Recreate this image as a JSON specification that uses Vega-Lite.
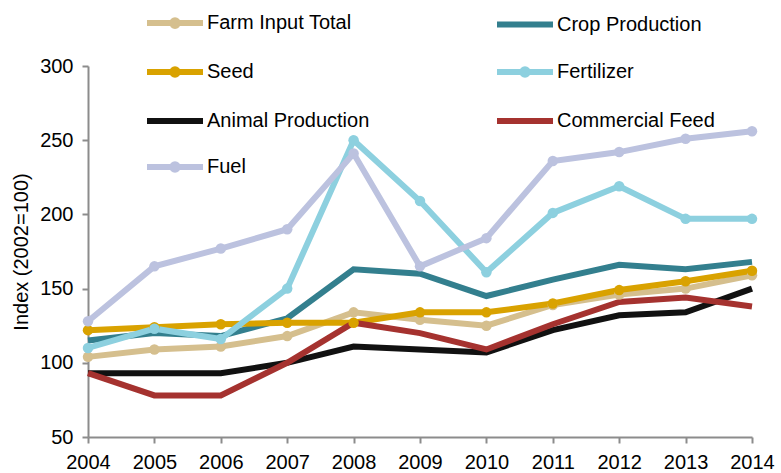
{
  "$schema": "https://vega.github.io/schema/vega-lite/v6.json",
  "width": 664,
  "height": 371,
  "autosize": "none",
  "padding": {"left": 88, "top": 66, "right": 29, "bottom": 36},
  "background": "white",
  "config": {"view": {"stroke": null}, "font": "Liberation Sans"},
  "datasets": {
    "idx": [
      {"year": 2004, "series": "Farm Input Total", "value": 104},
      {"year": 2005, "series": "Farm Input Total", "value": 109},
      {"year": 2006, "series": "Farm Input Total", "value": 111},
      {"year": 2007, "series": "Farm Input Total", "value": 118},
      {"year": 2008, "series": "Farm Input Total", "value": 134},
      {"year": 2009, "series": "Farm Input Total", "value": 129},
      {"year": 2010, "series": "Farm Input Total", "value": 125},
      {"year": 2011, "series": "Farm Input Total", "value": 139},
      {"year": 2012, "series": "Farm Input Total", "value": 146},
      {"year": 2013, "series": "Farm Input Total", "value": 150},
      {"year": 2014, "series": "Farm Input Total", "value": 159},
      {"year": 2004, "series": "Crop Production", "value": 115},
      {"year": 2005, "series": "Crop Production", "value": 120},
      {"year": 2006, "series": "Crop Production", "value": 118},
      {"year": 2007, "series": "Crop Production", "value": 130},
      {"year": 2008, "series": "Crop Production", "value": 163},
      {"year": 2009, "series": "Crop Production", "value": 160},
      {"year": 2010, "series": "Crop Production", "value": 145},
      {"year": 2011, "series": "Crop Production", "value": 156},
      {"year": 2012, "series": "Crop Production", "value": 166},
      {"year": 2013, "series": "Crop Production", "value": 163},
      {"year": 2014, "series": "Crop Production", "value": 168},
      {"year": 2004, "series": "Seed", "value": 122},
      {"year": 2005, "series": "Seed", "value": 124},
      {"year": 2006, "series": "Seed", "value": 126},
      {"year": 2007, "series": "Seed", "value": 127},
      {"year": 2008, "series": "Seed", "value": 127},
      {"year": 2009, "series": "Seed", "value": 134},
      {"year": 2010, "series": "Seed", "value": 134},
      {"year": 2011, "series": "Seed", "value": 140},
      {"year": 2012, "series": "Seed", "value": 149},
      {"year": 2013, "series": "Seed", "value": 155},
      {"year": 2014, "series": "Seed", "value": 162},
      {"year": 2004, "series": "Fertilizer", "value": 110},
      {"year": 2005, "series": "Fertilizer", "value": 123},
      {"year": 2006, "series": "Fertilizer", "value": 116},
      {"year": 2007, "series": "Fertilizer", "value": 150},
      {"year": 2008, "series": "Fertilizer", "value": 250},
      {"year": 2009, "series": "Fertilizer", "value": 209},
      {"year": 2010, "series": "Fertilizer", "value": 161},
      {"year": 2011, "series": "Fertilizer", "value": 201},
      {"year": 2012, "series": "Fertilizer", "value": 219},
      {"year": 2013, "series": "Fertilizer", "value": 197},
      {"year": 2014, "series": "Fertilizer", "value": 197},
      {"year": 2004, "series": "Animal Production", "value": 93},
      {"year": 2005, "series": "Animal Production", "value": 93},
      {"year": 2006, "series": "Animal Production", "value": 93},
      {"year": 2007, "series": "Animal Production", "value": 100},
      {"year": 2008, "series": "Animal Production", "value": 111},
      {"year": 2009, "series": "Animal Production", "value": 109},
      {"year": 2010, "series": "Animal Production", "value": 107},
      {"year": 2011, "series": "Animal Production", "value": 122},
      {"year": 2012, "series": "Animal Production", "value": 132},
      {"year": 2013, "series": "Animal Production", "value": 134},
      {"year": 2014, "series": "Animal Production", "value": 150},
      {"year": 2004, "series": "Commercial Feed", "value": 93},
      {"year": 2005, "series": "Commercial Feed", "value": 78},
      {"year": 2006, "series": "Commercial Feed", "value": 78},
      {"year": 2007, "series": "Commercial Feed", "value": 100},
      {"year": 2008, "series": "Commercial Feed", "value": 127},
      {"year": 2009, "series": "Commercial Feed", "value": 120},
      {"year": 2010, "series": "Commercial Feed", "value": 109},
      {"year": 2011, "series": "Commercial Feed", "value": 126},
      {"year": 2012, "series": "Commercial Feed", "value": 141},
      {"year": 2013, "series": "Commercial Feed", "value": 144},
      {"year": 2014, "series": "Commercial Feed", "value": 138},
      {"year": 2004, "series": "Fuel", "value": 128},
      {"year": 2005, "series": "Fuel", "value": 165},
      {"year": 2006, "series": "Fuel", "value": 177},
      {"year": 2007, "series": "Fuel", "value": 190},
      {"year": 2008, "series": "Fuel", "value": 241},
      {"year": 2009, "series": "Fuel", "value": 165},
      {"year": 2010, "series": "Fuel", "value": 184},
      {"year": 2011, "series": "Fuel", "value": 236},
      {"year": 2012, "series": "Fuel", "value": 242},
      {"year": 2013, "series": "Fuel", "value": 251},
      {"year": 2014, "series": "Fuel", "value": 256}
    ]
  },
  "data": {"name": "idx"},
  "encoding": {
    "x": {
      "field": "year",
      "type": "ordinal",
      "scale": {"type": "point", "padding": 0},
      "axis": {
        "title": null,
        "labelAngle": 0,
        "labelFontSize": 20,
        "labelColor": "#000000",
        "labelPadding": 9,
        "domainColor": "#8c8c8c",
        "domainWidth": 2,
        "tickColor": "#8c8c8c",
        "tickWidth": 2,
        "tickSize": 6,
        "grid": false
      }
    },
    "y": {
      "field": "value",
      "type": "quantitative",
      "scale": {"domain": [50, 300], "nice": false, "zero": false},
      "axis": {
        "title": "Index (2002=100)",
        "titleFontSize": 20,
        "titleFontWeight": "normal",
        "titleColor": "#000000",
        "titlePadding": 8,
        "values": [50, 100, 150, 200, 250, 300],
        "labelFontSize": 20,
        "labelColor": "#000000",
        "labelPadding": 9,
        "domainColor": "#8c8c8c",
        "domainWidth": 2,
        "tickColor": "#8c8c8c",
        "tickWidth": 2,
        "tickSize": 6,
        "grid": false
      }
    }
  },
  "layer": [
    {
      "mark": {"type": "line", "strokeWidth": 6, "strokeCap": "butt", "strokeJoin": "miter", "clip": false},
      "encoding": {
        "color": {
          "field": "series",
          "type": "nominal",
          "sort": ["Farm Input Total", "Seed", "Animal Production", "Fuel", "Crop Production", "Fertilizer", "Commercial Feed"],
          "scale": {
            "domain": ["Farm Input Total", "Seed", "Animal Production", "Fuel", "Crop Production", "Fertilizer", "Commercial Feed"],
            "range": ["#D5BF8E", "#D9A200", "#111111", "#BCC2DF", "#337F8E", "#8DD0DF", "#A5322F"]
          },
          "legend": {
            "title": null,
            "orient": "none",
            "legendX": 56,
            "legendY": -74,
            "columns": 2,
            "columnPadding": 115,
            "rowPadding": 3,
            "labelFontSize": 20,
            "labelColor": "#000000",
            "labelOffset": 1,
            "labelLimit": 300,
            "symbolSize": 3136,
            "symbolStrokeWidth": 6,
            "symbolType": "stroke",
            "encode": {
              "symbols": {
                "update": {
                  "shape": {"signal": "indexof(['Farm Input Total','Seed','Fertilizer','Fuel'], datum.value) >= 0 ? 'M-1,0H1M0.1,0A0.1,0.1 0 1,1 -0.1,0A0.1,0.1 0 1,1 0.1,0' : 'M-1,0H1'"}
                }
              }
            }
          }
        }
      }
    },
    {
      "transform": [{"filter": "indexof(['Farm Input Total','Seed','Fertilizer','Fuel'], datum.series) >= 0"}],
      "mark": {"type": "point", "filled": true, "size": 110, "opacity": 1, "clip": false},
      "encoding": {
        "color": {"field": "series", "type": "nominal", "legend": null}
      }
    }
  ]
}
